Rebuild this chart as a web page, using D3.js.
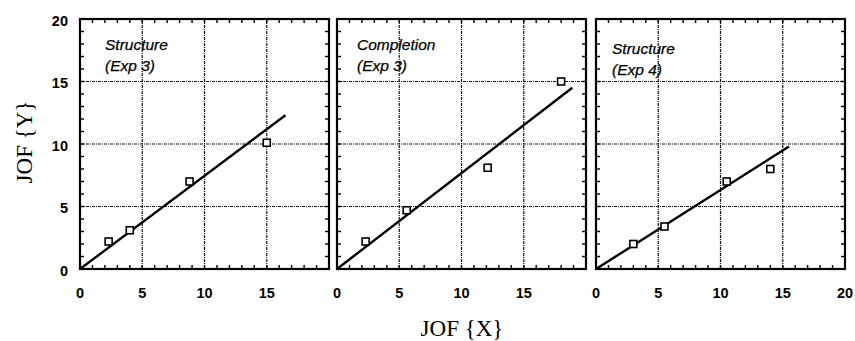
<!DOCTYPE html>
<html><head><meta charset="utf-8">
<script src="https://cdn.jsdelivr.net/npm/d3@7"></script>
<style>body{margin:0;background:#fff}svg{display:block}</style>
</head><body>
<svg id="c" width="855" height="341"></svg>
<script>
const panelTitles = [["Structure","(Exp 3)"],["Completion","(Exp 3)"],["Structure","(Exp 4)"]];
const pointsX = [[2.3,4.0,8.8,15.0],[2.3,5.6,12.1,18.0],[3.0,5.5,10.5,14.0]];
const pointsY = [[2.2,3.1,7.0,10.1],[2.2,4.7,8.1,15.0],[2.0,3.4,7.0,8.0]];
const fitStart = [[0,0],[0,0],[0,0]];
const fitEnd = [[16.5,12.3],[18.9,14.5],[15.5,9.8]];
const xTickLabels = [[0,5,10,15],[0,5,10,15],[0,5,10,15,20]];
const yTickLabels = [0,5,10,15,20];
const gridVals = [5,10,15];
const minorVals = d3.range(1,20);

const svg = d3.select("#c");
const panelLeft = [80,337,596];
const panelW = 249, pTop = 19, pBottom = 269;
const y = d3.scaleLinear().domain([0,20]).range([pBottom, pTop]);
const sans = "Liberation Sans, Arial, Helvetica, sans-serif";
const serif = "Liberation Serif, Times New Roman, serif";

panelLeft.forEach((L,i)=>{
  const x = d3.scaleLinear().domain([0,20]).range([L, L+panelW]);
  const g = svg.append("g");
  // grid
  g.selectAll(".gx").data(gridVals).join("line")
    .attr("x1",d=>x(d)).attr("x2",d=>x(d)).attr("y1",pTop).attr("y2",pBottom)
    .attr("stroke","#111").attr("stroke-width",1.2).attr("stroke-dasharray","3,1,1,1");
  g.selectAll(".gy").data(gridVals).join("line")
    .attr("y1",d=>y(d)).attr("y2",d=>y(d)).attr("x1",L).attr("x2",L+panelW)
    .attr("stroke","#111").attr("stroke-width",1.2).attr("stroke-dasharray","3,1,1,1");
  // minor ticks inward
  const tl = 4;
  minorVals.forEach(v=>{
    g.append("line").attr("x1",x(v)).attr("x2",x(v)).attr("y1",pBottom).attr("y2",pBottom-tl).attr("stroke","#000").attr("stroke-width",1.4);
    g.append("line").attr("x1",x(v)).attr("x2",x(v)).attr("y1",pTop).attr("y2",pTop+tl).attr("stroke","#000").attr("stroke-width",1.4);
    g.append("line").attr("y1",y(v)).attr("y2",y(v)).attr("x1",L).attr("x2",L+tl).attr("stroke","#000").attr("stroke-width",1.4);
    g.append("line").attr("y1",y(v)).attr("y2",y(v)).attr("x1",L+panelW).attr("x2",L+panelW-tl).attr("stroke","#000").attr("stroke-width",1.4);
  });
  // frame
  g.append("rect").attr("x",L).attr("y",pTop).attr("width",panelW).attr("height",pBottom-pTop)
    .attr("fill","none").attr("stroke","#000").attr("stroke-width",2.2);
  // x tick labels
  g.selectAll(".xl").data(xTickLabels[i]).join("text")
    .attr("x",d=>x(d)).attr("y",298).attr("text-anchor","middle")
    .attr("font-family",sans).attr("font-weight","bold").attr("font-size",14.5)
    .text(d=>d);
  // fit line
  g.append("line").attr("x1",x(fitStart[i][0])).attr("y1",y(fitStart[i][1]))
    .attr("x2",x(fitEnd[i][0])).attr("y2",y(fitEnd[i][1]))
    .attr("stroke","#000").attr("stroke-width",2.4);
  // points
  g.selectAll(".pt").data(pointsX[i].map((v,k)=>[v,pointsY[i][k]])).join("rect")
    .attr("x",d=>x(d[0])-3.5).attr("y",d=>y(d[1])-3.5).attr("width",7).attr("height",7)
    .attr("fill","#fff").attr("stroke","#000").attr("stroke-width",1.6);
  // titles
  const ty = i===2 ? 54 : 50;
  panelTitles[i].forEach((t,k)=>{
    g.append("text").attr("x",x(0)+(i===0?25:(i===1?20:16))).attr("y",ty+k*21)
      .attr("font-family",sans).attr("font-style","italic").attr("font-size",15.5)
      .attr("stroke","#000").attr("stroke-width",0.25)
      .text(t);
  });
});
// y tick labels
svg.selectAll(".yl").data(yTickLabels).join("text")
  .attr("x",68).attr("y",d=>y(d)+6.5).attr("text-anchor","end")
  .attr("font-family",sans).attr("font-weight","bold").attr("font-size",14.5)
  .text(d=>d);
// axis titles
svg.append("text").attr("x",462).attr("y",336).attr("text-anchor","middle")
  .attr("font-family",serif).attr("font-size",23).text("JOF {X}");
svg.append("text").attr("transform","translate(32,142) rotate(-90)").attr("text-anchor","middle")
  .attr("font-family",serif).attr("font-size",23).text("JOF {Y}");
</script>
</body></html>
